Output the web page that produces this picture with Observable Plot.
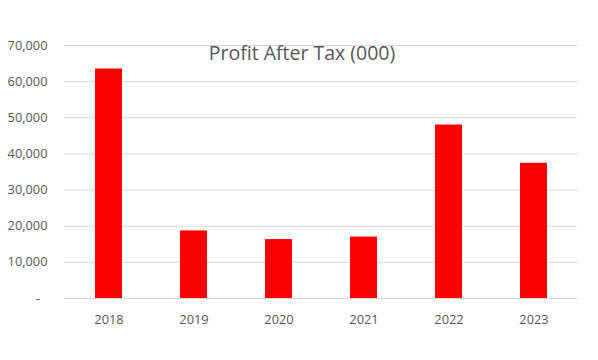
<!DOCTYPE html>
<html>
<head>
<meta charset="utf-8">
<script src="https://cdn.jsdelivr.net/npm/d3@7"></script>
<script src="https://cdn.jsdelivr.net/npm/@observablehq/plot@0.6"></script>
<style>
  html, body { margin: 0; padding: 0; background: #fff; }
  #chart { width: 598px; height: 360px; }
  #chart svg { display: block; }
</style>
</head>
<body>
<div id="chart"></div>
<script>
const title = "Profit After Tax (000)";
const years = ["2018", "2019", "2020", "2021", "2022", "2023"];
const profits = [63500, 18700, 16300, 17000, 48000, 37400];
const yTicks = [0, 10000, 20000, 30000, 40000, 50000, 60000, 70000];

const data = years.map((year, i) => ({year, profit: profits[i]}));
const fmt = d3.format(",");

const chart = Plot.plot({
  width: 598,
  height: 360,
  marginTop: 45,
  marginBottom: 62,
  marginLeft: 64,
  marginRight: 21,
  style: {fontFamily: "'Open Sans', sans-serif", fontSize: "12.8px", color: "#595959", background: "#fff"},
  x: {domain: years, paddingInner: 0.684, paddingOuter: 0.342, label: null, tickSize: 0, tickPadding: 16},
  y: {domain: [0, 70000], ticks: yTicks, label: null, tickSize: 0, tickPadding: 17,
      tickFormat: d => d === 0 ? "-\u2007" : fmt(d)},
  marks: [
    Plot.ruleY(yTicks, {stroke: "#d9d9d9", strokeWidth: 1}),
    Plot.barY(data, {x: "year", y: "profit", fill: "#ff0000"}),
    Plot.text([title], {frameAnchor: "top", lineAnchor: "top", dx: -19, dy: 1,
      fontSize: 19.5, fill: "#595959", text: d => d})
  ]
});
document.getElementById("chart").appendChild(chart);
</script>
</body>
</html>
